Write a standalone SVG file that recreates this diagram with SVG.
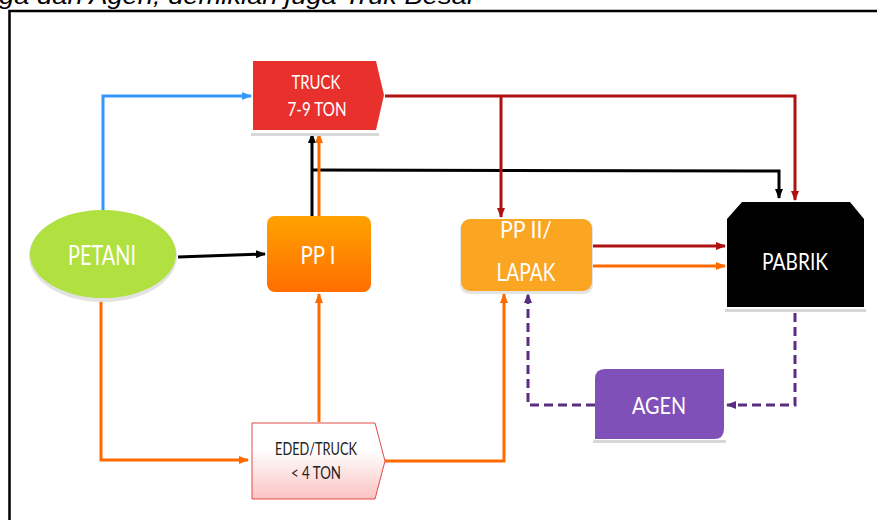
<svg xmlns="http://www.w3.org/2000/svg" width="877" height="520" viewBox="0 0 877 520">
<style>
.lbl{font-family:Lato,"Open Sans","Liberation Sans",sans-serif;fill:#fff;text-anchor:middle}
.dk{fill:#222}
.ln{fill:none;stroke-width:3}
.blue{stroke:#3797FF}
.blk{stroke:#000}
.org{stroke:#FF6A00}
.red{stroke:#AF1111}
.pur{stroke:#5A2D82;stroke-dasharray:9 5}
.shadow{fill:#d8d8d8}
</style>
<defs>
<marker id="aBlue" markerUnits="userSpaceOnUse" markerWidth="10" markerHeight="10" refX="9" refY="5" orient="auto"><path d="M0,1 L10,5 L0,9 z" fill="#3797FF"/></marker>
<marker id="aBlk" markerUnits="userSpaceOnUse" markerWidth="10" markerHeight="10" refX="9" refY="5" orient="auto"><path d="M0,1 L10,5 L0,9 z" fill="#000"/></marker>
<marker id="aOrg" markerUnits="userSpaceOnUse" markerWidth="10" markerHeight="10" refX="9" refY="5" orient="auto"><path d="M0,1 L10,5 L0,9 z" fill="#FF6A00"/></marker>
<marker id="aRed" markerUnits="userSpaceOnUse" markerWidth="10" markerHeight="10" refX="9" refY="5" orient="auto"><path d="M0,1 L10,5 L0,9 z" fill="#AF1111"/></marker>
<marker id="aPur" markerUnits="userSpaceOnUse" markerWidth="10" markerHeight="10" refX="9" refY="5" orient="auto"><path d="M0,1 L10,5 L0,9 z" fill="#5A2D82"/></marker>
<linearGradient id="gPP1" x1="0" y1="0" x2="0" y2="1"><stop offset="0" stop-color="#FFA200"/><stop offset="1" stop-color="#FF6E00"/></linearGradient>
<linearGradient id="gEded" x1="0" y1="0" x2="0" y2="1"><stop offset="0.35" stop-color="#FFFFFF"/><stop offset="1" stop-color="#FBC3C3"/></linearGradient>
</defs>

<text x="-1" y="4" font-family="'Liberation Sans',Arial,sans-serif" font-style="italic" font-size="24" fill="#000" textLength="477" lengthAdjust="spacingAndGlyphs">ga dan Agen, demikian juga Truk Besar</text>
<rect x="9.5" y="11" width="880" height="520" fill="none" stroke="#000" stroke-width="2.5"/>

<g id="connectors">
<polyline class="ln blue" points="103,212 103,96 251,96" marker-end="url(#aBlue)"/>
<line class="ln blk" x1="178" y1="257" x2="265" y2="254" marker-end="url(#aBlk)"/>
<line class="ln blk" x1="312" y1="216" x2="312" y2="134" marker-end="url(#aBlk)"/>
<polyline class="ln blk" points="312,170 779,171 779,198" marker-end="url(#aBlk)"/>
<line class="ln org" x1="319" y1="216" x2="319" y2="134" marker-end="url(#aOrg)"/>
<line class="ln org" x1="319" y1="422" x2="319" y2="294" marker-end="url(#aOrg)"/>
<polyline class="ln red" points="385,96 795,96 795,200" marker-end="url(#aRed)"/>
<line class="ln red" x1="501" y1="96" x2="501" y2="217" marker-end="url(#aRed)"/>
<line class="ln red" x1="593" y1="246" x2="725" y2="246" marker-end="url(#aRed)"/>
<line class="ln org" x1="593" y1="266" x2="725" y2="266" marker-end="url(#aOrg)"/>
<polyline class="ln org" points="101,300 101,460 248,460" marker-end="url(#aOrg)"/>
<polyline class="ln org" points="385,461 504,461 504,294" marker-end="url(#aOrg)"/>
<polyline class="ln pur" points="795,313 795,405 727,405" marker-end="url(#aPur)"/>
<polyline class="ln pur" points="595,405 528,405 528,294" marker-end="url(#aPur)"/>
</g>

<g id="truck79">
<rect class="shadow" x="251" y="133" width="128" height="3"/>
<path d="M253,61 L376,61 L384,95 L376,130 L253,130 z" fill="#E8312D"/>
<text class="lbl" x="316" y="89" font-size="19" textLength="49" lengthAdjust="spacingAndGlyphs">TRUCK</text>
<text class="lbl" x="317" y="116" font-size="19" textLength="59" lengthAdjust="spacingAndGlyphs">7-9 TON</text>
</g>

<g id="petani">
<ellipse cx="103" cy="256" rx="74" ry="46" fill="#e2e2e2"/>
<ellipse cx="103" cy="254" rx="73" ry="44" fill="#B1E041"/>
<text class="lbl" x="102" y="265" font-size="26" textLength="68" lengthAdjust="spacingAndGlyphs">PETANI</text>
</g>

<g id="pp1">
<rect x="267" y="216" width="104" height="76" rx="8" fill="url(#gPP1)"/>
<text class="lbl" x="318" y="264" font-size="25" textLength="35" lengthAdjust="spacingAndGlyphs">PP I</text>
</g>

<g id="pp2">
<rect x="460" y="220" width="133" height="74" rx="9" fill="#e4e4e4"/>
<rect x="461" y="219" width="131" height="72" rx="9" fill="#FBA623"/>
<text class="lbl" x="526" y="238" font-size="24" textLength="52" lengthAdjust="spacingAndGlyphs">PP II/</text>
<text class="lbl" x="526" y="281" font-size="25" textLength="59" lengthAdjust="spacingAndGlyphs">LAPAK</text>
</g>

<g id="pabrik">
<rect class="shadow" x="725" y="309" width="141" height="3"/>
<path d="M742,202 L850,202 L864,219 L864,307 L727,307 L727,219 z" fill="#000"/>
<text class="lbl" x="795" y="270" font-size="23" textLength="66" lengthAdjust="spacingAndGlyphs">PABRIK</text>
</g>

<g id="agen">
<rect class="shadow" x="593" y="440" width="133" height="3"/>
<path d="M605,369 L724,369 L724,429 Q724,439 714,439 L595,439 L595,379 Q595,369 605,369 z" fill="#7F50B7"/>
<text class="lbl" x="659" y="414" font-size="23" textLength="54" lengthAdjust="spacingAndGlyphs">AGEN</text>
</g>

<g id="eded">
<path d="M252,423 L375,423 L385,461 L375,499 L252,499 z" fill="url(#gEded)" stroke="#E24A4A" stroke-width="1"/>
<text class="lbl dk" x="316" y="455" font-size="18" textLength="82" lengthAdjust="spacingAndGlyphs">EDED/TRUCK</text>
<text class="lbl dk" x="316" y="479" font-size="18" textLength="50" lengthAdjust="spacingAndGlyphs">&lt; 4 TON</text>
</g>
</svg>
